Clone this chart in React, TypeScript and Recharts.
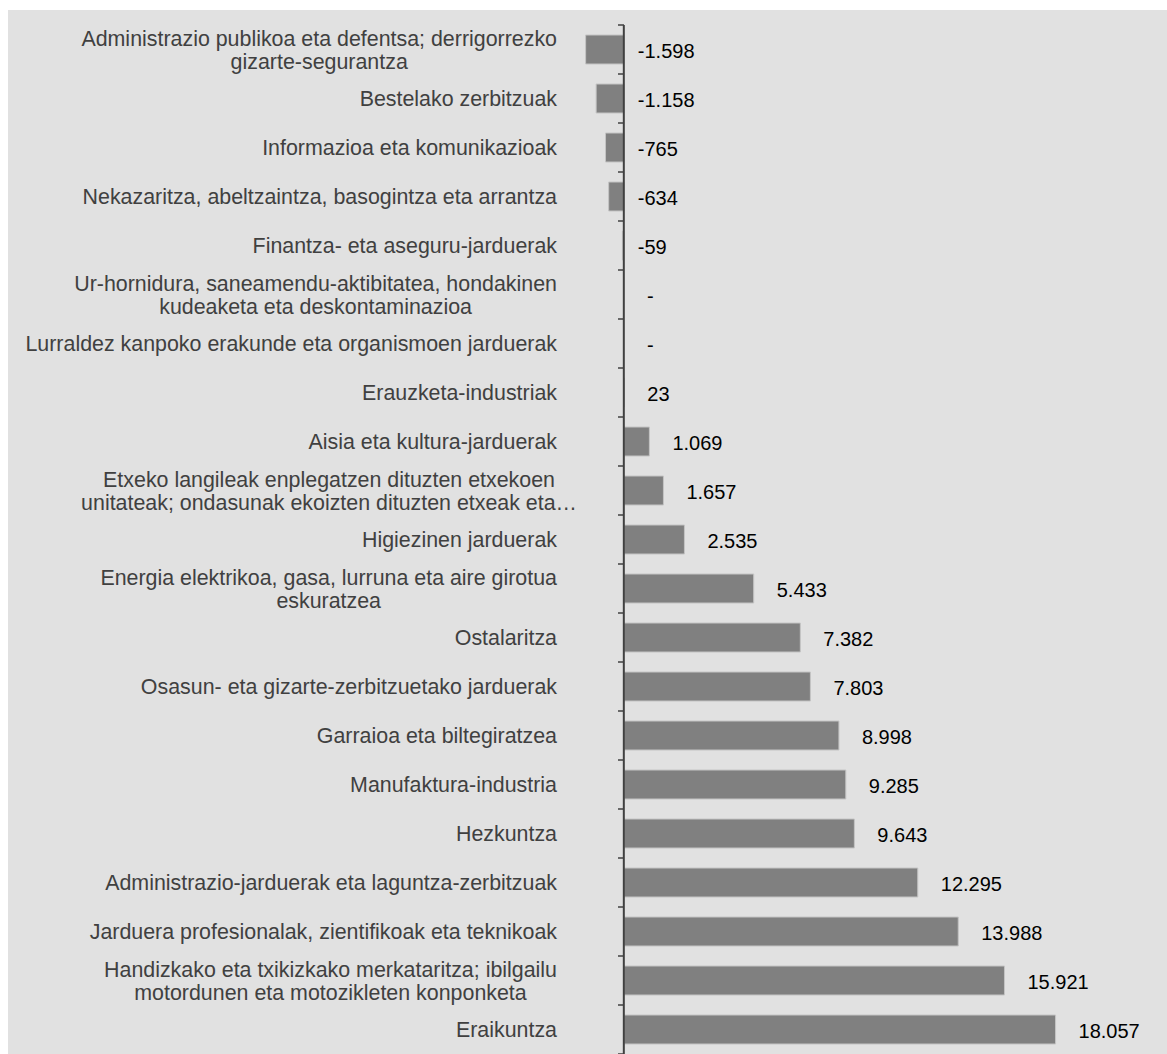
import React from 'react';
import { BarChart, Bar, XAxis, YAxis, ReferenceLine, LabelList } from 'recharts';

const categories = [
  'Administrazio publikoa eta defentsa; derrigorrezko\ngizarte-segurantza',
  'Bestelako zerbitzuak',
  'Informazioa eta komunikazioak',
  'Nekazaritza, abeltzaintza, basogintza eta arrantza',
  'Finantza- eta aseguru-jarduerak',
  'Ur-hornidura, saneamendu-aktibitatea, hondakinen\nkudeaketa eta deskontaminazioa',
  'Lurraldez kanpoko erakunde eta organismoen jarduerak',
  'Erauzketa-industriak',
  'Aisia eta kultura-jarduerak',
  'Etxeko langileak enplegatzen dituzten etxekoen\nunitateak; ondasunak ekoizten dituzten etxeak eta…',
  'Higiezinen jarduerak',
  'Energia elektrikoa, gasa, lurruna eta aire girotua\neskuratzea',
  'Ostalaritza',
  'Osasun- eta gizarte-zerbitzuetako jarduerak',
  'Garraioa eta biltegiratzea',
  'Manufaktura-industria',
  'Hezkuntza',
  'Administrazio-jarduerak eta laguntza-zerbitzuak',
  'Jarduera profesionalak, zientifikoak eta teknikoak',
  'Handizkako eta txikizkako merkataritza; ibilgailu\nmotordunen eta motozikleten konponketa',
  'Eraikuntza',
];

const values: (number | null)[] = [
  -1598, -1158, -765, -634, -59, null, null, 23, 1069, 1657, 2535,
  5433, 7382, 7803, 8998, 9285, 9643, 12295, 13988, 15921, 18057,
];

const xDomain = [-2000, 20000];

const data = categories.map((name, i) => ({
  name,
  value: values[i] ?? 0,
}));

const FONT = '"Liberation Sans", Arial, sans-serif';
const W = 1159;
const H = 1044;
const TOP = 15;
const BAND = (H - TOP) / categories.length;
const AXIS_X = 616;
const LABEL_RIGHT = 549;
const CAT_SIZE = 21.4;
const VAL_SIZE = 20;
const LINE_H = 23;

let ctx: CanvasRenderingContext2D | null = null;
const measure = (s: string) => {
  if (!ctx) {
    ctx = document.createElement('canvas').getContext('2d');
    if (ctx) ctx.font = `${CAT_SIZE}px "Liberation Sans"`;
  }
  return ctx ? ctx.measureText(s).width : s.length * 10;
};

const fmt = (v: number | null) => {
  if (v === null) return '-';
  const s = Math.abs(v).toString().replace(/\B(?=(\d{3})+(?!\d))/g, '.');
  return v < 0 ? '-' + s : s;
};

const CategoryTick = (props: any) => {
  const { y, payload } = props;
  const label = String(payload.value);
  const idx = categories.indexOf(label);
  const lines = label.split('\n');
  const maxW = Math.max(...lines.map(measure));
  let cx = LABEL_RIGHT - maxW / 2;
  if (label.endsWith('…')) cx += 20;
  const y0 = y - ((lines.length - 1) * LINE_H) / 2;
  const isLast = idx === categories.length - 1;
  return (
    <g>
      <line x1={AXIS_X - 6} x2={AXIS_X} y1={y - BAND / 2} y2={y - BAND / 2} stroke="#404040" strokeWidth={1.5} />
      {isLast && (
        <line x1={AXIS_X - 6} x2={AXIS_X} y1={y + BAND / 2} y2={y + BAND / 2} stroke="#404040" strokeWidth={1.5} />
      )}
      <text textAnchor="middle" fill="#404040" fontSize={CAT_SIZE} fontFamily={FONT}>
        {lines.map((l, i) => (
          <tspan key={i} x={cx} y={y0 + i * LINE_H} dy="0.36em">
            {l}
          </tspan>
        ))}
      </text>
      {values[idx] === null && (
        <text x={AXIS_X + 23} y={y + 1.5} dy="0.36em" fill="#000" fontSize={VAL_SIZE} fontFamily={FONT}>
          {fmt(null)}
        </text>
      )}
    </g>
  );
};

const ValueLabel = (props: any) => {
  const { x, y, width, height, value } = props;
  const raw = values[categories.indexOf(String(value))];
  if (raw === null || raw === undefined) return null;
  const zeroX = raw > 0 ? x : Math.max(x, x + width);
  const endX = Math.max(x, x + width);
  const lx = raw < 0 ? zeroX + 14 : endX + 23;
  return (
    <text x={lx} y={y + height / 2 + 1.5} dy="0.36em" fill="#000" fontSize={VAL_SIZE} fontFamily={FONT}>
      {fmt(raw)}
    </text>
  );
};

export default function App() {
  return (
    <div
      style={{
        position: 'fixed',
        left: 8,
        top: 10,
        width: W,
        height: H,
        background: '#e1e1e1',
        overflow: 'hidden',
      }}
    >
      <BarChart
        width={W}
        height={H}
        data={data}
        layout="vertical"
        margin={{ top: TOP, right: 65, bottom: 0, left: 8 }}
        barSize={29}
      >
        <XAxis type="number" domain={xDomain} hide />
        <YAxis
          type="category"
          dataKey="name"
          width={560}
          interval={0}
          axisLine={false}
          tickLine={false}
          tick={<CategoryTick />}
        />
        <Bar dataKey="value" fill="#808080" stroke="#c4c4c4" strokeWidth={1} isAnimationActive={false}>
          <LabelList dataKey="name" content={<ValueLabel />} />
        </Bar>
        <ReferenceLine x={0} stroke="#404040" strokeWidth={2} />
      </BarChart>
    </div>
  );
}
